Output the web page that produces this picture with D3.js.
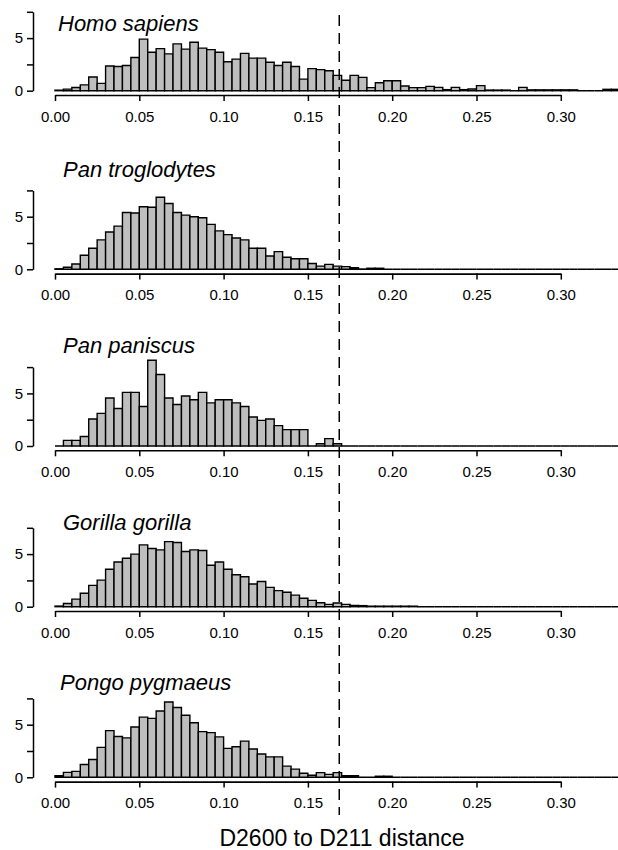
<!DOCTYPE html>
<html>
<head>
<meta charset="utf-8">
<script src="https://cdn.jsdelivr.net/npm/d3@7"></script>
<style>
  html, body { margin: 0; padding: 0; background: #fff; }
  svg { display: block; font-family: "Liberation Sans", Arial, Helvetica, sans-serif; }
</style>
</head>
<body>
<svg id="chart" width="618" height="850"></svg>
<script>
// ---- data (density per 0.005-wide bin, starting at 0) ----
const binWidth = 0.005;
const species = ["Homo sapiens", "Pan troglodytes", "Pan paniscus", "Gorilla gorilla", "Pongo pygmaeus"];
const homoSapiens = [0.05,0.15,0.3,0.55,1.3,0.7,2.35,2.3,2.4,3.15,4.9,3.65,4.0,3.5,4.45,3.95,4.6,4.05,3.9,3.65,
  2.75,3.0,3.55,3.1,3.1,2.7,2.4,2.7,2.3,1.1,2.1,2.0,1.9,1.46,1.0,1.46,1.27,0.29,0.76,0.95,
  0.95,0.44,0.29,0.29,0.41,0.32,0.1,0.32,0.1,0.16,0.48,0.06,0.06,0.06,0,0.32,0.08,0.08,0.08,0.08,
  0.08,0.08,0,0,0,0.13,0.13,0.13];
const panTroglodytes = [0.05,0.2,0.5,1.33,2.0,2.8,3.55,4.1,5.4,5.35,5.95,5.9,6.85,6.25,5.4,5.15,5.0,4.9,4.27,3.65,
  3.3,2.97,2.8,2.0,2.0,1.27,1.68,1.14,1.0,1.0,0.55,0.3,0.47,0.3,0.25,0.15,0.03,0.1,0.1];
const panPaniscus = [0,0.53,0.53,0.9,2.56,3.1,4.56,3.56,5.1,5.1,3.75,8.15,6.8,4.56,3.94,4.75,4.4,5.1,4.1,4.4,
  4.4,4.1,3.75,2.75,2.44,2.56,1.94,1.56,1.56,1.56,0,0.22,0.7,0.22];
const gorillaGorilla = [0.06,0.3,0.72,1.28,2.03,2.53,3.56,4.25,4.6,5.0,5.88,5.53,5.4,6.19,6.1,5.25,5.4,5.34,3.94,4.25,
  3.56,3.03,2.84,2.16,2.4,1.84,1.53,1.38,1.1,0.8,0.6,0.38,0.22,0.35,0.22,0.12,0.1,0.05,0.05,0.05,
  0.05,0.05,0.05];
const pongoPygmaeus = [0.15,0.47,0.56,1.22,1.69,2.84,4.44,3.88,3.75,4.78,5.72,5.6,6.3,7.16,6.63,5.9,5.19,4.34,4.25,3.84,
  2.75,2.9,3.44,2.69,2.22,1.94,1.94,1.06,0.78,0.38,0.2,0.44,0.28,0.44,0.15,0.15,0,0,0.1,0.1];
const seriesList = [homoSapiens, panTroglodytes, panPaniscus, gorillaGorilla, pongoPygmaeus];
const xTicks = [0, 0.05, 0.10, 0.15, 0.20, 0.25, 0.30];
const yTicks = [0, 2.5, 5, 7.5];
const yTickLabels = ["0", "", "5", ""];
const totalBins = 68;          // shared breaks run past the right edge
const threshold = 0.1686;      // dashed reference line
const xAxisTitle = "D2600 to D211 distance";

// ---- layout ----
const W = 618, H = 850;
const panelBase = [90.7, 269.3, 446, 606.7, 777.3];   // baseline y of each panel
const titleX = [58, 63, 63, 63, 60];
const titleY = [31, 177, 353, 529.5, 689.5];
const unitPx = 10.52;

const svg = d3.select("#chart");
const x = d3.scaleLinear().domain([0, 0.30]).range([55, 560.8]);

seriesList.forEach((vals, i) => {
  const base = panelBase[i];
  const y = d3.scaleLinear().domain([0, 7.5]).range([base, base - 7.5 * unitPx]);
  const bins = d3.range(totalBins).map(k => ({ x0: k * binWidth, x1: (k + 1) * binWidth, v: k < vals.length ? vals[k] : 0 }));
  const g = svg.append("g");

  g.selectAll("path.bar").data(bins).enter().append("path")
    .attr("class", "bar")
    .attr("d", d => {
      const a = x(d.x0), b = x(d.x1), y0 = y(0), y1 = y(d.v);
      return `M${a},${y0}V${y1}H${b}V${y0}Z`;
    })
    .attr("fill", "#bebebe")
    .attr("stroke", "#000")
    .attr("stroke-width", 1.4)
    .attr("stroke-linejoin", "miter");

  // y axis
  const yAx = g.append("g").attr("transform", `translate(33,0)`)
    .call(d3.axisLeft(y).tickValues(yTicks).tickFormat((d, j) => yTickLabels[j]).tickSize(6).tickSizeOuter(0));
  yAx.select(".domain").attr("stroke-width", 1.5);
  yAx.selectAll(".tick line").attr("stroke-width", 1.5);
  yAx.selectAll("text").attr("font-size", 15).attr("fill", "#000").attr("x", -10).attr("font-family", "Liberation Sans, Arial, sans-serif");

  // x axis
  const xAx = g.append("g").attr("transform", `translate(0,${base + 4.3})`)
    .call(d3.axisBottom(x).tickValues(xTicks).tickFormat(d3.format(".2f")).tickSize(6).tickSizeOuter(0));
  xAx.select(".domain").attr("stroke-width", 1.6);
  xAx.selectAll(".tick line").attr("stroke-width", 1.5);
  xAx.selectAll("text").attr("font-size", 15).attr("fill", "#000").attr("y", 16).attr("font-family", "Liberation Sans, Arial, sans-serif");

  g.append("text")
    .attr("x", titleX[i]).attr("y", titleY[i])
    .attr("font-size", 22).attr("font-style", "italic")
    .text(species[i]);
});

// dashed reference line across all panels
svg.append("line")
  .attr("x1", x(threshold)).attr("x2", x(threshold))
  .attr("y1", 15).attr("y2", 815)
  .attr("stroke", "#000").attr("stroke-width", 1.5)
  .attr("stroke-dasharray", "11,7");

svg.append("text")
  .attr("x", 342).attr("y", 846)
  .attr("text-anchor", "middle")
  .attr("font-size", 23)
  .text(xAxisTitle);
</script>
</body>
</html>
